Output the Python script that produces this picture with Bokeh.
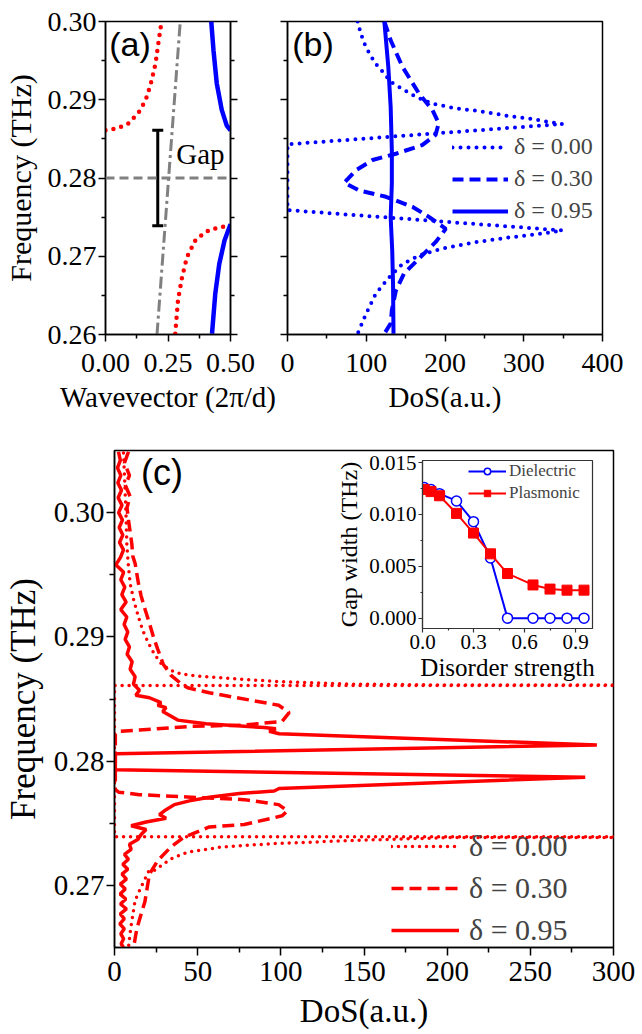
from bokeh.plotting import figure
from bokeh.layouts import column, row
from bokeh.models import (Range1d, FixedTicker, NumeralTickFormatter, CustomJSTickFormatter,
                          LinearAxis, Label, Legend, LegendItem, Span, Whisker, TeeHead,
                          ColumnDataSource)
from bokeh.embed import file_html
from bokeh.resources import INLINE

SERIF = "Liberation Serif, Times New Roman, Times, serif"
SANS = "Liberation Sans, Arial, sans-serif"
BLUE = "#0000ff"
RED = "#ff0000"
GRAY = "#808080"

# ---------------- data: panel (a) band structure ----------------
a_red_up_k = [0.000, 0.025, 0.053, 0.093, 0.133, 0.160, 0.180, 0.200, 0.213, 0.222]
a_red_up_f = [0.2861, 0.2862, 0.2864, 0.2870, 0.2884, 0.2899, 0.2919, 0.2946, 0.2976, 0.2995]
a_red_lo_k = [0.279, 0.290, 0.306, 0.326, 0.359, 0.399, 0.452, 0.500]
a_red_lo_f = [0.2601, 0.2644, 0.2673, 0.2699, 0.2720, 0.2731, 0.2737, 0.2739]
a_blue_up_k = [0.423, 0.432, 0.445, 0.465, 0.485, 0.500]
a_blue_up_f = [0.3000, 0.2963, 0.2921, 0.2887, 0.2867, 0.2861]
a_blue_lo_k = [0.426, 0.439, 0.455, 0.476, 0.500]
a_blue_lo_f = [0.2601, 0.2652, 0.2690, 0.2720, 0.2741]
light_k = [0.206, 0.299]
light_f = [0.260, 0.300]
mid_gap_f = 0.28
gap_k = [0.209]
gap_lo = [0.2739]
gap_hi = [0.2861]

# ---------------- data: panel (b) DoS (dielectric) ----------------
b00_dos = [89, 93, 97.5, 104, 112, 120.6, 131, 144, 159, 171.5, 184, 214, 239.5, 265, 282, 307, 324, 349,
           0, 0,
           349, 324, 281.5, 239, 197, 167, 146, 129, 112, 99.5, 89]
b00_f = [0.3000, 0.2985, 0.2972, 0.2959, 0.2946, 0.2936, 0.2923, 0.2915, 0.2906, 0.2900, 0.2895, 0.2889,
         0.2886, 0.2882, 0.2879, 0.2876, 0.2873, 0.2869,
         0.2843, 0.2759,
         0.2733, 0.2729, 0.2724, 0.2718, 0.2710, 0.2701, 0.2690, 0.2673, 0.2652, 0.2626, 0.2601]
b30_dos = [123, 131, 146, 167, 184, 192, 188, 171, 137.6, 108, 87, 72, 91, 125, 159, 180, 201,
           188, 167, 148, 137.6, 132.5, 131, 123]
b30_f = [0.3000, 0.2976, 0.2942, 0.2908, 0.2887, 0.2870, 0.2855, 0.2842, 0.2831, 0.2823, 0.2810, 0.2794,
         0.2784, 0.2776, 0.2763, 0.2750, 0.2735, 0.2718, 0.2697, 0.2678, 0.2656, 0.2631, 0.2614, 0.2601]
b95_dos = [123, 128, 131, 132.5, 132.5, 131, 133, 134, 134.6]
b95_f = [0.3000, 0.2942, 0.2891, 0.2835, 0.2793, 0.2750, 0.2707, 0.2665, 0.2601]

# ---------------- data: panel (c) DoS (plasmonic) ----------------
c00_dos = [5.4, 6.0, 6.4, 7.0, 7.4, 8.3, 9.4, 11.5, 14.4, 17, 20.4, 24, 28.3, 34, 40.3, 54, 75, 98.7,
           140, 203, 1000,
           0, 0,
           1000, 203, 144, 94, 64, 44, 34, 24, 20.8, 16, 12.4, 9.7, 8.4]
c00_f = [0.3048, 0.3030, 0.3016, 0.2995, 0.2975, 0.2958, 0.2943, 0.2930, 0.2916, 0.2905, 0.2895, 0.2886,
         0.2878, 0.2873, 0.2870, 0.2868, 0.2866, 0.2864, 0.2862, 0.28612, 0.28610,
         0.28609, 0.27391,
         0.27390, 0.27385, 0.27362, 0.27335, 0.27308, 0.27268, 0.27214, 0.27121, 0.2712, 0.26987,
         0.2688, 0.2665, 0.2650]
c30_dos = [8.4, 6.0, 9.0, 6.5, 9.4, 7.5, 8.4, 10.4, 11.0, 12.4, 14.4, 16, 18.4, 21, 23.4, 26, 29.3, 34,
           40.3, 44, 57, 82, 98.7, 105, 100.8, 78, 46, 15, 2.5, 0.5,
           0.5, 2.5, 15, 46, 78, 98.7, 104, 100.8, 78, 57, 46, 42, 34, 26, 21, 19.4, 18.3, 15.8, 13.4,
           12, 11.4]
c30_f = [0.3049, 0.3040, 0.3030, 0.3022, 0.3013, 0.3004, 0.2994, 0.2975, 0.2965, 0.2959, 0.2943, 0.2933,
         0.2922, 0.2911, 0.2900, 0.2890, 0.2878, 0.2869, 0.2862, 0.2859, 0.2855, 0.2849, 0.2845, 0.2839,
         0.2832, 0.2829, 0.2828, 0.2825, 0.2824, 0.2822,
         0.2777, 0.2775, 0.2773, 0.2771, 0.2769, 0.2765, 0.2760, 0.2756, 0.2749, 0.2747, 0.2741, 0.2739,
         0.2731, 0.2720, 0.2709, 0.2696, 0.2687, 0.2676, 0.2665, 0.2654, 0.2650]
c95_dos = [2.4, 3.5, 1.8, 3.8, 2.0, 4.2, 2.2, 4.5, 2.5, 4.8, 2.8, 5.0, 3.0, 5.4, 3.6, 0.8, 5.5, 3.8, 6.2,
           4.4, 7.0, 3.8, 7.4, 5.8, 8.0, 6.4, 9.0, 7.6, 10.6, 9.4, 12.4, 11.4, 15, 12.8, 21, 28, 26, 31,
           29, 33, 38, 55, 90, 97, 93, 99, 290, 0.5, 0.5, 283, 99, 96, 75, 57, 45, 36, 30, 27, 31, 19, 10,
           19, 16, 14, 9, 10, 6, 8.4, 5, 8, 4.5, 7.2, 3.5, 6.5, 3.4, 6.8, 3.6, 7.2, 3.5, 5.9, 3.2, 5.9,
           3.8, 5.5, 4.0, 5.4]
c95_f = [0.3049, 0.3042, 0.3036, 0.3030, 0.3024, 0.3018, 0.3012, 0.3006, 0.3000, 0.2994, 0.2988, 0.2982,
         0.2976, 0.2970, 0.2964, 0.2958, 0.2952, 0.2946, 0.2940, 0.2934, 0.2928, 0.2922, 0.2916, 0.2910,
         0.2904, 0.2898, 0.2892, 0.2886, 0.2880, 0.2874, 0.2868, 0.2862, 0.2857, 0.2853, 0.2851, 0.2847,
         0.2845, 0.2843, 0.2840, 0.2837, 0.2833, 0.2830, 0.2827, 0.2826, 0.2824, 0.2822, 0.2813, 0.2806,
         0.2793, 0.2787, 0.2778, 0.2776, 0.2774, 0.2771, 0.2768, 0.2765, 0.2760, 0.2757, 0.2754, 0.2751,
         0.2748, 0.2745, 0.2741, 0.2737, 0.2733, 0.2729, 0.2725, 0.2721, 0.2717, 0.2713, 0.2709, 0.2705,
         0.2701, 0.2697, 0.2693, 0.2689, 0.2685, 0.2681, 0.2677, 0.2673, 0.2669, 0.2665, 0.2661, 0.2657,
         0.2653, 0.2650]

# ---------------- data: inset gap width ----------------
dis_strength = [0.01, 0.05, 0.1, 0.2, 0.3, 0.4, 0.5, 0.65, 0.75, 0.85, 0.95]
gap_dielectric = [0.0126, 0.0124, 0.0120, 0.0113, 0.0093, 0.0058, 0.0, 0.0, 0.0, 0.0, 0.0]
gap_plasmonic = [0.0124, 0.0122, 0.0118, 0.0101, 0.0082, 0.0062, 0.0043, 0.0032, 0.0028, 0.0027, 0.0027]

legend_labels = ["\u03b4 = 0.00", "\u03b4 = 0.30", "\u03b4 = 0.95"]


def make_fig(fw, fh, xr, yr, bl, br, bt, bb):
    p = figure(frame_width=fw, frame_height=fh, x_range=Range1d(*xr), y_range=Range1d(*yr),
               min_border_left=bl, min_border_right=br, min_border_top=bt, min_border_bottom=bb,
               output_backend="svg", toolbar_location=None)
    p.xgrid.visible = False
    p.ygrid.visible = False
    p.outline_line_color = "black"
    p.outline_line_width = 1.5
    p.outline_line_alpha = 1.0
    p.background_fill_color = "white"
    p.border_fill_alpha = 0
    return p


def style_axis(ax, tick_size, label_size, tick_out=7, minor_out=4, color="black", lw=1.5):
    ax.axis_line_width = lw
    ax.axis_line_color = color
    ax.major_tick_line_width = lw
    ax.minor_tick_line_width = lw
    ax.major_tick_line_color = color
    ax.minor_tick_line_color = color
    ax.major_tick_in = 0
    ax.major_tick_out = tick_out
    ax.minor_tick_in = 0
    ax.minor_tick_out = minor_out
    ax.major_label_text_font = SERIF
    ax.major_label_text_font_size = tick_size
    ax.major_label_text_color = "black"
    ax.axis_label_text_font = SERIF
    ax.axis_label_text_font_size = label_size
    ax.axis_label_text_font_style = "normal"
    ax.axis_label_text_color = "black"


empty_fmt = CustomJSTickFormatter(code="return ''")
f_ticker = FixedTicker(ticks=[0.26, 0.27, 0.28, 0.29, 0.30], minor_ticks=[0.265, 0.275, 0.285, 0.295])

# ================= panel (a) =================
pa = make_fig(125, 313, (0, 0.5), (0.26, 0.30), 102, 70, 21, 90)
pa.xaxis.ticker = FixedTicker(ticks=[0.0, 0.25, 0.5], minor_ticks=[0.125, 0.375])
pa.xaxis.formatter = NumeralTickFormatter(format="0.00")
pa.yaxis.ticker = f_ticker
pa.yaxis.formatter = NumeralTickFormatter(format="0.00")
pa.xaxis.axis_label = "Wavevector (2\u03c0/d)"
pa.yaxis.axis_label = "Frequency (THz)"
style_axis(pa.xaxis[0], "28px", "29px")
style_axis(pa.yaxis[0], "28px", "30px")
pa.xaxis.major_label_standoff = 12
pa.yaxis.major_label_standoff = 2
pa.xaxis.axis_label_standoff = 6
pa.yaxis.axis_label_standoff = 8
ra = LinearAxis(ticker=f_ticker, formatter=empty_fmt)
style_axis(ra, "10px", "10px")
pa.add_layout(ra, "right")

pa.add_layout(Span(location=mid_gap_f, dimension="width", line_color=GRAY, line_width=3,
                   line_dash="9 5"))
pa.line(light_k, light_f, line_color=GRAY, line_width=3, line_dash="12 4 3 4")
pa.line(a_red_up_k, a_red_up_f, line_color=RED, line_width=4.5, line_dash="0 8", line_cap="round")
pa.line(a_red_lo_k, a_red_lo_f, line_color=RED, line_width=4.5, line_dash="0 8", line_cap="round")
pa.line(a_blue_up_k, a_blue_up_f, line_color=BLUE, line_width=4.5)
pa.line(a_blue_lo_k, a_blue_lo_f, line_color=BLUE, line_width=4.5)
gap_src = ColumnDataSource(dict(k=gap_k, lo=gap_lo, hi=gap_hi))
pa.add_layout(Whisker(base="k", lower="lo", upper="hi", source=gap_src, dimension="height",
                      line_color="black", line_width=3,
                      upper_head=TeeHead(size=11, line_width=3, line_color="black"),
                      lower_head=TeeHead(size=11, line_width=3, line_color="black")))
pa.add_layout(Label(x=0.283, y=0.2831, text="Gap", text_font=SERIF, text_font_size="29px",
                    text_baseline="middle", text_align="left", text_color="black"))
pa.add_layout(Label(x=0.015, y=0.2995, text="(a)", text_font=SANS, text_font_size="34px",
                    text_baseline="top", text_align="left", text_color="black"))

# ================= panel (b) =================
pb = make_fig(315, 313, (0, 400), (0.26, 0.30), 47, 27, 21, 90)
pb.margin = (0, 0, 0, -60)
pb.xaxis.ticker = FixedTicker(ticks=[0, 100, 200, 300, 400], minor_ticks=[50, 150, 250, 350])
pb.yaxis.ticker = f_ticker
pb.yaxis.formatter = empty_fmt
pb.xaxis.axis_label = "DoS(a.u.)"
style_axis(pb.xaxis[0], "28px", "29px")
style_axis(pb.yaxis[0], "10px", "10px")
pb.xaxis.major_label_standoff = 12
pb.xaxis.axis_label_standoff = 6

rb0 = pb.line(b00_dos, b00_f, line_color=BLUE, line_width=4, line_dash="0 8", line_cap="round")
rb1 = pb.line(b30_dos, b30_f, line_color=BLUE, line_width=4, line_dash="11 6")
rb2 = pb.line(b95_dos, b95_f, line_color=BLUE, line_width=4)
leg_b = Legend(items=[LegendItem(label=legend_labels[0], renderers=[rb0]),
                      LegendItem(label=legend_labels[1], renderers=[rb1]),
                      LegendItem(label=legend_labels[2], renderers=[rb2])],
               location=(165, 110))
leg_b.label_text_font = SERIF
leg_b.label_text_font_size = "24px"
leg_b.glyph_width = 56
leg_b.glyph_height = 20
leg_b.label_standoff = 6
leg_b.spacing = 5
leg_b.padding = 0
leg_b.margin = 0
leg_b.border_line_alpha = 0
leg_b.background_fill_alpha = 0
pb.add_layout(leg_b)
pb.add_layout(Label(x=6, y=0.2995, text="(b)", text_font=SANS, text_font_size="34px",
                    text_baseline="top", text_align="left", text_color="black"))

# ================= panel (c) =================
pc = make_fig(499, 497, (0, 300), (0.265, 0.305), 102, 22, 26, 78)
pc.xaxis.ticker = FixedTicker(ticks=[0, 50, 100, 150, 200, 250, 300],
                              minor_ticks=[25, 75, 125, 175, 225, 275])
pc.yaxis.ticker = FixedTicker(ticks=[0.27, 0.28, 0.29, 0.30], minor_ticks=[0.275, 0.285, 0.295])
pc.yaxis.formatter = NumeralTickFormatter(format="0.00")
pc.xaxis.axis_label = "DoS(a.u.)"
pc.yaxis.axis_label = "Frequency (THz)"
style_axis(pc.xaxis[0], "29px", "33px", tick_out=8, minor_out=5)
style_axis(pc.yaxis[0], "29px", "35px", tick_out=8, minor_out=5)
pc.xaxis.major_label_standoff = 6
pc.yaxis.major_label_standoff = 2
pc.xaxis.axis_label_standoff = 9
pc.yaxis.axis_label_standoff = 8

rc0 = pc.line(c00_dos, c00_f, line_color=RED, line_width=3.5, line_dash="0 7", line_cap="round")
rc1 = pc.line(c30_dos, c30_f, line_color=RED, line_width=3.5, line_dash="12 6")
rc2 = pc.line(c95_dos, c95_f, line_color=RED, line_width=3.5)
leg_c = Legend(items=[LegendItem(label=legend_labels[0], renderers=[rc0]),
                      LegendItem(label=legend_labels[1], renderers=[rc1]),
                      LegendItem(label=legend_labels[2], renderers=[rc2])],
               location=(277, 0))
leg_c.label_text_font = SERIF
leg_c.label_text_font_size = "30px"
leg_c.glyph_width = 68
leg_c.glyph_height = 24
leg_c.label_standoff = 10
leg_c.spacing = 8
leg_c.padding = 0
leg_c.margin = 0
leg_c.border_line_alpha = 0
leg_c.background_fill_alpha = 0
pc.add_layout(leg_c)
pc.add_layout(Label(x=16, y=0.3049, text="(c)", text_font=SANS, text_font_size="36px",
                    text_baseline="top", text_align="left", text_color="black"))

# ================= inset =================
ins = figure(frame_width=170, frame_height=168, x_range=Range1d(0, 1.0), y_range=Range1d(-0.001, 0.0152),
             min_border_left=90, min_border_right=28, min_border_top=14, min_border_bottom=62,
             output_backend="svg", toolbar_location=None)
ins.styles = {"position": "absolute", "left": "308px", "top": "446px"}
ins.xgrid.visible = False
ins.ygrid.visible = False
ins.outline_line_color = "#333333"
ins.outline_line_width = 1.2
ins.border_fill_alpha = 0
ins.background_fill_color = "white"
ins.xaxis.ticker = FixedTicker(ticks=[0.0, 0.3, 0.6, 0.9], minor_ticks=[0.15, 0.45, 0.75])
ins.xaxis.formatter = NumeralTickFormatter(format="0.0")
ins.yaxis.ticker = FixedTicker(ticks=[0.0, 0.005, 0.010, 0.015], minor_ticks=[0.0025, 0.0075, 0.0125])
ins.yaxis.formatter = NumeralTickFormatter(format="0.000")
ins.xaxis.axis_label = "Disorder strength"
ins.yaxis.axis_label = "Gap width (THz)"
style_axis(ins.xaxis[0], "21px", "25px", tick_out=4, minor_out=2, color="#333333", lw=1.2)
style_axis(ins.yaxis[0], "21px", "24px", tick_out=4, minor_out=2, color="#333333", lw=1.2)
ins.xaxis.major_label_standoff = 2
ins.yaxis.major_label_standoff = 2
ins.xaxis.axis_label_standoff = 2
ins.yaxis.axis_label_standoff = 4
ld = ins.line(dis_strength, gap_dielectric, line_color=BLUE, line_width=2)
sd = ins.scatter(dis_strength, gap_dielectric, marker="circle", size=10, line_color=BLUE,
                 line_width=1.5, fill_color="white")
lp = ins.line(dis_strength, gap_plasmonic, line_color=RED, line_width=2)
sp = ins.scatter(dis_strength, gap_plasmonic, marker="square", size=10, line_color=RED,
                 fill_color=RED)
leg_i = Legend(items=[LegendItem(label="Dielectric", renderers=[ld, sd]),
                      LegendItem(label="Plasmonic", renderers=[lp, sp])],
               location=(46, 125))
leg_i.label_text_font = SERIF
leg_i.label_text_font_size = "17px"
leg_i.glyph_width = 38
leg_i.glyph_height = 16
leg_i.label_standoff = 3
leg_i.spacing = 2
leg_i.padding = 0
leg_i.margin = 0
leg_i.border_line_alpha = 0
leg_i.background_fill_alpha = 0
ins.add_layout(leg_i)

layout = column(row(pa, pb), pc, ins)
open("out.html", "w").write(file_html(layout, INLINE))
